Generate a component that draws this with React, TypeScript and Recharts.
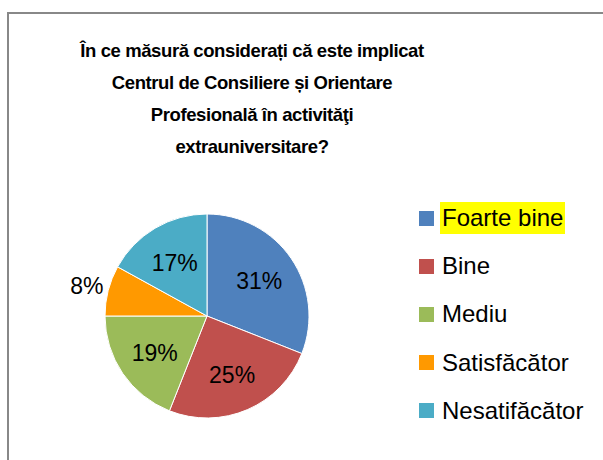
import React from "react";
import { PieChart, Pie, Cell, Legend } from "recharts";

// Survey answers and their shares (percent)
const categories = ["Foarte bine", "Bine", "Mediu", "Satisfăcător", "Nesatifăcător"];
const shares = [31, 25, 19, 8, 17];
const sliceColors = ["#4F81BD", "#C0504D", "#9BBB59", "#FF9900", "#4BACC6"];
const highlighted = ["Foarte bine"];

const titleLines = [
  "În ce măsură considerați că este implicat",
  "Centrul de Consiliere și Orientare",
  "Profesională în activităţi",
  "extrauniversitare?",
];

const data = categories.map((name, i) => ({ name, value: shares[i] }));

const FONT = "'Liberation Sans', Arial, sans-serif";
const RAD = Math.PI / 180;

// Percent labels: inside the slice for large shares, just outside for small ones
const renderLabel = (props: any) => {
  const { cx, cy, midAngle, outerRadius, value } = props;
  const r = value < 10 ? outerRadius + 22 : outerRadius * 0.62;
  const x = cx + r * Math.cos(-midAngle * RAD);
  const y = cy + r * Math.sin(-midAngle * RAD);
  return (
    <text
      x={x}
      y={y + 1}
      fill="#000"
      fontSize={23}
      fontFamily={FONT}
      textAnchor="middle"
      dominantBaseline="central"
    >
      {`${value}%`}
    </text>
  );
};

const renderLegend = () => (
  <div style={{ fontFamily: FONT }}>
    {categories.map((name, i) => (
      <div
        key={name}
        style={{ height: 48.2, display: "flex", alignItems: "center" }}
      >
        <span
          style={{
            display: "inline-block",
            width: 15,
            height: 15,
            background: sliceColors[i],
            flex: "none",
          }}
        />
        <span
          style={{
            marginLeft: 6,
            padding: "0 2px",
            fontSize: 24,
            lineHeight: "32px",
            color: "#000",
            background: highlighted.includes(name) ? "#FFFF00" : "transparent",
            whiteSpace: "nowrap",
          }}
        >
          {name}
        </span>
      </div>
    ))}
  </div>
);

export default function App() {
  const baselines = [57, 89, 121, 153];
  return (
    <div
      style={{
        position: "relative",
        width: 603,
        height: 460,
        overflow: "hidden",
        background: "#fff",
      }}
    >
      <style>{"body{margin:0}"}</style>
      <svg
        width={603}
        height={460}
        style={{ position: "absolute", left: 0, top: 0 }}
      >
        <rect
          x={8}
          y={13}
          width={640}
          height={500}
          fill="none"
          stroke="#888888"
          strokeWidth={2}
        />
        {titleLines.map((line, i) => (
          <text
            key={i}
            x={252}
            y={baselines[i]}
            textAnchor="middle"
            fontFamily={FONT}
            fontWeight="bold"
            fontSize={18.5}
            letterSpacing={-0.4}
            fill="#000"
          >
            {line}
          </text>
        ))}
      </svg>
      <div style={{ position: "absolute", left: 0, top: 0 }}>
        <PieChart width={603} height={460} margin={{ top: 0, right: 0, bottom: 0, left: 0 }}>
          <Pie
            data={data}
            dataKey="value"
            nameKey="name"
            cx={207}
            cy={316}
            outerRadius={102}
            startAngle={90}
            endAngle={-270}
            stroke="#fff"
            strokeWidth={1}
            label={renderLabel}
            labelLine={false}
            isAnimationActive={false}
          >
            {data.map((d, i) => (
              <Cell key={d.name} fill={sliceColors[i]} />
            ))}
          </Pie>
          <Legend
            layout="vertical"
            align="right"
            verticalAlign="top"
            content={renderLegend}
            wrapperStyle={{ position: "absolute", left: 419, top: 194, width: 184 }}
          />
        </PieChart>
      </div>
    </div>
  );
}
